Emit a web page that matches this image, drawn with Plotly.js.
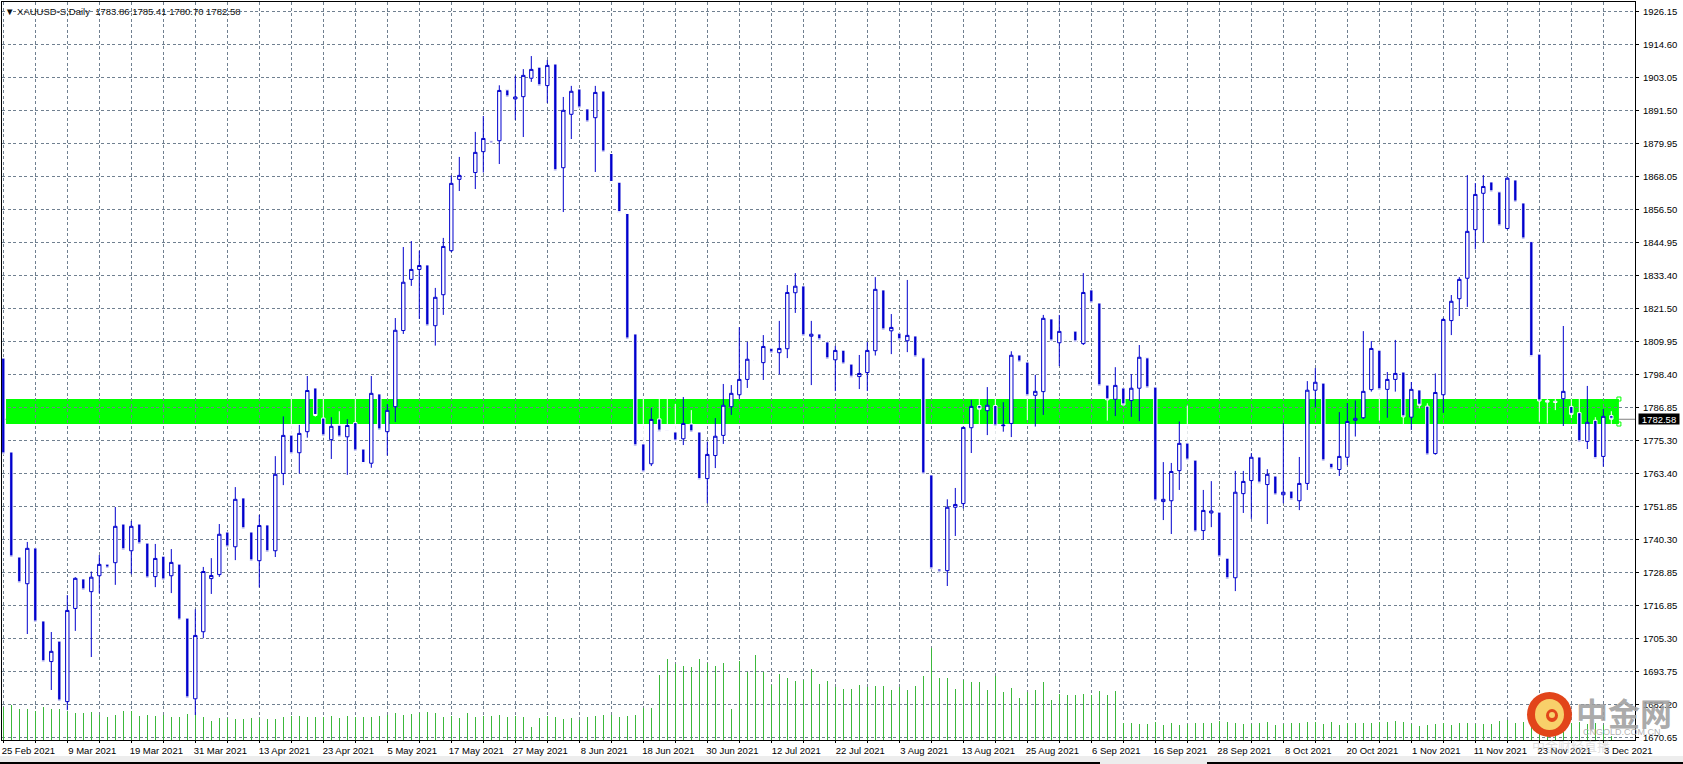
<!DOCTYPE html>
<html><head><meta charset="utf-8">
<script src="https://cdn.plot.ly/plotly-3.0.1.min.js"></script>
<style>html,body{margin:0;padding:0;background:#fff;overflow:hidden}#c{width:1683px;height:764px}</style>
</head><body><div id="c"></div>
<script>
const opens=[1804.1,1771.05,1734.1,1724.7,1737.3,1711.6,1697.3,1704.5,1683.2,1716.0,
1726.4,1721.9,1727.5,1731.6,1732.1,1745.7,1736.3,1745.7,1739.0,1727.2,
1734.4,1727.5,1731.6,1712.6,1684.2,1707.8,1726.5,1727.9,1742.9,1737.7,
1754.9,1742.9,1732.8,1745.4,1736.3,1763.5,1777.0,1770.8,1778.2,1793.6,
1783.0,1775.4,1780.5,1776.4,1781.4,1772.1,1767.1,1791.5,1778.2,1787.0,
1813.8,1831.8,1835.3,1836.9,1815.5,1826.4,1841.9,1867.0,1868.1,1869.4,
1876.75,1880.6,1880.6,1898.5,1895.3,1896.1,1902.6,1906.5,1900.0,1907.6,
1871.1,1889.9,1898.8,1891.8,1888.7,1898.1,1876.1,1866.0,1855.0,1812.6,
1773.9,1766.9,1782.7,1778.8,1778.1,1775.7,1780.9,1778.1,1761.7,1769.8,
1776.9,1787.0,1791.2,1796.6,1803.4,1802.5,1807.6,1806.0,1807.4,1827.1,
1829.5,1811.8,1812.6,1809.8,1803.5,1806.9,1802.0,1797.6,1799.0,1806.7,
1828.1,1813.7,1812.9,1810.2,1811.9,1804.2,1763.0,1729.9,1729.3,1751.6,
1752.9,1779.6,1787.4,1785.6,1787.4,1780.3,1781.1,1805.2,1802.7,1791.0,
1792.3,1817.9,1809.5,1810.6,1813.6,1809.2,1828.1,1823.5,1794.6,1789.6,
1793.6,1789.2,1793.5,1804.2,1793.9,1753.6,1753.9,1764.5,1774.2,1768.2,
1743.4,1749.6,1749.9,1733.7,1726.8,1756.4,1761.0,1769.3,1759.6,1762.6,
1756.0,1757.3,1753.9,1760.0,1792.8,1795.3,1767.1,1764.9,1769.2,1782.2,
1783.1,1793.0,1806.9,1793.1,1796.6,1799.2,1783.3,1792.9,1787.2,1770.5,
1791.2,1817.3,1825.0,1832.2,1849.3,1862.1,1866.1,1862.6,1849.7,1866.8,
1858.7,1845.1,1805.5,1789.2,1788.9,1789.8,1787.1,1784.9,1774.8,1782.2,
1769.5,1783.86];
const highs=[1804.1,1771.05,1734.1,1739.4,1737.3,1711.6,1707.7,1704.5,1720.7,1727.0,
1726.4,1729.0,1734.8,1731.6,1751.7,1745.7,1746.8,1745.7,1739.0,1738.7,
1734.4,1736.9,1731.6,1712.6,1715.7,1730.6,1733.7,1745.7,1742.9,1758.7,
1754.9,1742.9,1748.9,1745.4,1769.6,1783.6,1790.2,1780.6,1797.8,1794.0,
1790.5,1783.3,1785.4,1782.6,1790.5,1772.1,1797.8,1791.5,1787.9,1818.2,
1843.2,1845.3,1841.9,1836.9,1828.8,1846.4,1868.4,1874.9,1880.3,1883.7,
1889.3,1880.6,1900.1,1898.5,1903.5,1905.8,1910.4,1906.5,1909.0,1907.6,
1896.0,1899.9,1898.8,1891.8,1899.9,1898.1,1876.1,1866.0,1855.0,1812.6,
1790.3,1786.5,1790.3,1790.3,1788.0,1790.4,1785.8,1778.1,1774.7,1783.0,
1795.0,1794.6,1815.0,1809.8,1810.2,1812.2,1810.0,1817.2,1829.8,1834.0,
1829.5,1817.2,1812.6,1809.8,1808.4,1806.9,1802.0,1805.2,1809.8,1832.6,
1828.1,1819.6,1812.9,1831.6,1811.9,1804.2,1763.0,1729.9,1754.4,1758.4,
1780.0,1789.4,1790.3,1793.9,1790.3,1788.6,1806.5,1805.2,1802.7,1798.2,
1819.3,1817.9,1819.3,1813.0,1813.6,1834.0,1828.1,1823.5,1794.6,1800.9,
1793.6,1798.5,1808.7,1804.2,1793.9,1767.5,1767.2,1781.8,1787.4,1768.2,
1757.7,1760.8,1752.0,1733.7,1764.4,1764.4,1770.6,1769.3,1765.0,1762.6,
1781.2,1757.3,1769.3,1796.0,1800.6,1795.3,1767.1,1785.1,1788.3,1789.2,
1813.6,1810.1,1809.0,1799.2,1810.5,1799.2,1795.7,1792.9,1788.2,1798.7,
1818.3,1826.3,1832.6,1868.5,1865.7,1868.5,1866.1,1862.6,1868.0,1866.8,
1858.7,1845.1,1805.5,1790.0,1790.0,1815.4,1789.8,1789.8,1794.3,1783.3,
1786.2,1785.41];
const lows=[1770.35,1734.1,1725.0,1707.0,1711.2,1697.2,1687.3,1683.4,1680.2,1708.1,
1722.5,1698.9,1721.3,1730.2,1724.3,1736.6,1728.0,1738.7,1726.7,1723.5,
1726.0,1721.4,1711.9,1684.5,1678.5,1705.5,1721.1,1727.1,1737.6,1733.0,
1744.0,1732.7,1723.4,1735.9,1734.1,1759.4,1769.0,1763.5,1776.1,1783.5,
1776.0,1768.6,1775.5,1763.0,1770.0,1767.0,1765.5,1778.8,1769.8,1781.6,
1812.6,1829.5,1817.9,1815.4,1808.5,1819.3,1841.4,1862.9,1856.0,1863.6,
1869.4,1879.8,1872.4,1896.0,1887.9,1881.9,1901.3,1899.9,1893.9,1870.0,
1855.5,1881.2,1892.1,1887.2,1869.6,1876.6,1865.9,1855.3,1810.8,1773.2,
1763.0,1766.1,1778.4,1777.5,1774.9,1773.5,1778.1,1761.3,1753.0,1765.4,
1773.9,1784.1,1789.8,1793.6,1796.7,1796.4,1805.9,1798.4,1804.1,1820.0,
1811.9,1794.6,1810.5,1798.0,1792.5,1802.0,1797.4,1793.2,1792.5,1805.0,
1814.0,1805.5,1810.5,1806.2,1804.5,1763.3,1729.9,1728.8,1723.9,1741.5,
1751.2,1770.7,1780.5,1777.0,1774.0,1778.2,1776.3,1802.7,1782.3,1780.0,
1784.1,1810.1,1801.3,1808.0,1809.8,1808.7,1823.5,1794.3,1782.1,1783.7,
1787.6,1783.4,1781.9,1793.6,1753.8,1747.1,1742.2,1757.7,1767.0,1742.9,
1740.1,1744.6,1734.1,1726.4,1722.1,1749.6,1747.5,1760.1,1745.7,1755.9,
1753.0,1754.2,1750.6,1757.7,1786.7,1767.9,1765.1,1762.6,1766.4,1776.5,
1782.7,1792.3,1782.1,1783.1,1792.3,1780.9,1778.8,1786.4,1770.0,1770.1,
1784.8,1812.2,1818.9,1822.1,1842.4,1844.9,1862.6,1850.6,1849.4,1859.0,
1846.0,1804.6,1781.7,1781.1,1785.8,1780.2,1783.0,1774.6,1772.1,1768.7,
1765.9,1780.7];
const closes=[1770.35,1734.1,1725.0,1737.15,1711.2,1697.2,1700.9,1683.4,1715.3,1726.6,
1722.5,1727.0,1731.5,1730.2,1744.9,1736.6,1744.9,1738.7,1726.7,1733.6,
1726.0,1732.2,1711.9,1684.5,1706.5,1729.0,1727.6,1742.1,1737.6,1754.4,
1744.0,1732.7,1745.2,1735.9,1763.2,1776.9,1770.4,1777.6,1792.7,1783.9,
1776.7,1780.1,1776.3,1780.4,1771.4,1767.0,1791.7,1778.8,1785.7,1813.9,
1830.8,1835.3,1836.7,1815.4,1825.5,1843.4,1865.6,1868.4,1868.0,1876.5,
1881.4,1879.8,1898.3,1896.0,1896.0,1903.6,1905.7,1899.9,1907.1,1870.0,
1891.3,1898.0,1892.1,1887.2,1897.6,1876.6,1865.9,1855.3,1810.8,1773.2,
1764.0,1782.5,1778.4,1778.5,1774.9,1781.1,1778.1,1761.3,1770.2,1776.6,
1787.5,1791.7,1796.6,1803.7,1803.2,1808.2,1805.9,1807.5,1827.2,1829.4,
1811.9,1812.5,1810.5,1803.8,1806.8,1802.0,1797.4,1798.7,1806.8,1828.3,
1814.0,1814.9,1810.5,1812.1,1804.5,1763.3,1729.9,1728.8,1751.6,1752.6,
1779.7,1787.1,1786.1,1787.5,1780.2,1780.5,1805.1,1802.7,1790.8,1792.4,
1818.1,1810.1,1813.5,1810.5,1809.8,1827.2,1823.5,1794.3,1789.4,1794.5,
1787.6,1793.5,1804.4,1793.6,1753.8,1754.4,1764.2,1774.1,1768.2,1742.9,
1750.5,1750.3,1734.1,1726.4,1756.9,1760.7,1769.2,1760.1,1763.2,1755.9,
1756.9,1754.2,1760.0,1792.8,1795.6,1767.9,1765.1,1769.5,1781.8,1782.9,
1792.4,1807.5,1792.9,1796.6,1798.7,1783.4,1793.1,1787.5,1770.0,1792.0,
1817.7,1824.1,1831.8,1848.7,1861.7,1864.5,1862.6,1850.6,1867.4,1859.0,
1846.0,1804.6,1789.0,1788.6,1788.5,1792.4,1784.3,1774.6,1781.5,1768.7,
1783.6,1782.58];
const volumes=[33,35,31,31,29,33,31,31,29,27,27,28,25,23,25,29,29,24,25,24,
25,23,23,26,25,23,19,22,22,21,21,22,22,21,21,23,24,24,23,23,
23,24,22,24,23,23,23,24,25,27,25,26,27,28,27,23,24,22,27,23,
24,24,25,23,24,23,13,22,24,23,21,22,20,23,24,25,25,23,24,25,
32,32,65,81,76,74,73,81,77,74,77,31,79,68,85,68,55,66,62,59,
60,71,56,59,53,51,51,55,53,54,54,50,53,50,54,64,92,62,62,51,
60,58,58,50,64,48,52,42,48,50,58,40,46,45,45,46,45,49,45,49,
17,17,16,16,18,15,17,15,16,17,17,17,19,18,17,16,16,17,18,15,
16,17,17,18,18,16,18,15,17,17,17,17,18,18,19,18,16,14,15,16,
17,15,17,17,16,16,16,19,20,17,18,20,19,17,16,16,17,18,16,17,
15,4];
const dateLabels=["25 Feb 2021","9 Mar 2021","19 Mar 2021","31 Mar 2021","13 Apr 2021","23 Apr 2021","5 May 2021","17 May 2021","27 May 2021","8 Jun 2021","18 Jun 2021","30 Jun 2021","12 Jul 2021","22 Jul 2021","3 Aug 2021","13 Aug 2021","25 Aug 2021","6 Sep 2021","16 Sep 2021","28 Sep 2021","8 Oct 2021","20 Oct 2021","1 Nov 2021","11 Nov 2021","23 Nov 2021","3 Dec 2021"];
const priceTicks=[1926.15,1914.54,1902.92,1891.31,1879.70,1868.08,1856.47,1844.85,1833.24,1821.63,1810.01,1798.40,1786.79,1775.17,1763.56,1751.94,1740.33,1728.72,1717.10,1705.49,1693.87,1682.26,1670.65];
const priceLabels=["1926.15","1914.60","1903.05","1891.50","1879.95","1868.05","1856.50","1844.95","1833.40","1821.50","1809.95","1798.40","1786.85","1775.30","1763.40","1751.85","1740.30","1728.85","1716.85","1705.30","1693.75","1682.20","1670.65"];
const bandTop=1789.7, bandBottom=1780.9, lastPrice=1782.58;

const idx=opens.map((_,i)=>i);
const xTicks=[],xText=[];
for(let i=0;i<=200;i+=4){xTicks.push(i);xText.push(i%8===0?dateLabels[i/8]:"");}
const BLUE="#0000CD",GRID="#708090";
const FONT="Liberation Sans, Arial, sans-serif";
const W=1683,H=764,mL=2,mR=48,mT=2,mB=24;
const px=x=>(x-mL)/(W-mL-mR), py=y=>(H-mB-y)/(H-mT-mB);
const bandX0=0.34, bandX1=201.95;

const traces=[
 {type:"candlestick",x:idx,open:opens,high:highs,low:lows,close:closes,hoverinfo:"skip",
  increasing:{line:{color:BLUE,width:1},fillcolor:"#ffffff"},
  decreasing:{line:{color:"#ffffff",width:1},fillcolor:BLUE},whiskerwidth:0,showlegend:false},
 {type:"bar",x:idx,y:volumes,yaxis:"y2",width:0.14,marker:{color:"#3CB83C",line:{width:0}},hoverinfo:"skip",showlegend:false},
 {type:"scatter",mode:"markers",x:[bandX1,bandX1],y:[bandTop,bandBottom],cliponaxis:false,
  marker:{symbol:"square-open",size:4,color:"#00FF00",line:{width:1,color:"#00FF00"}},hoverinfo:"skip",showlegend:false}
];
const layout={
 width:W,height:H,margin:{l:mL,r:mR,t:mT,b:mB,pad:0,autoexpand:false},
 paper_bgcolor:"#ffffff",plot_bgcolor:"#ffffff",showlegend:false,boxgap:0.4,bargap:0,
 font:{family:FONT,size:10,color:"#000"},
 xaxis:{type:"linear",range:[-0.1625,203.96],rangeslider:{visible:false},tickmode:"array",tickvals:xTicks,ticktext:xText,
  showgrid:true,gridcolor:GRID,griddash:"3px,2.5px",gridwidth:1,zeroline:false,showline:true,linecolor:"#000",linewidth:1,mirror:true,
  ticks:"outside",ticklen:2,tickcolor:"#000",tickangle:0,ticklabelshift:25,ticklabelstandoff:0,ticklabeloverflow:"allow",tickfont:{family:FONT,size:9.5,color:"#000"}},
 yaxis:{range:[1669.70,1929.42],side:"right",tickmode:"array",tickvals:priceTicks,ticktext:priceLabels,
  showgrid:true,gridcolor:GRID,griddash:"3px,2.5px",gridwidth:1,zeroline:false,showline:true,linecolor:"#000",linewidth:1,mirror:true,
  ticks:"outside",ticklen:3,tickcolor:"#000",ticklabelstandoff:2,tickfont:{family:FONT,size:9.5,color:"#000"}},
 yaxis2:{overlaying:"y",range:[0,738],visible:false,showgrid:false,zeroline:false},
 shapes:[
  {type:"rect",xref:"x",yref:"y",x0:bandX0,x1:bandX1,y0:bandBottom,y1:bandTop,fillcolor:"#00FF00",line:{width:0},layer:"below"},
  {type:"line",xref:"paper",yref:"y",x0:0,x1:1,y0:lastPrice,y1:lastPrice,line:{color:"#808080",width:1},layer:"below"},
  {type:"rect",xref:"paper",yref:"paper",x0:px(0),x1:px(W),y0:py(756),y1:py(H),fillcolor:"#EDEDED",line:{width:0}},
  {type:"rect",xref:"paper",yref:"paper",x0:px(0),x1:px(1100),y0:py(762),y1:py(H),fillcolor:"#000",line:{width:0}},
  {type:"rect",xref:"paper",yref:"paper",x0:px(1207),x1:px(W),y0:py(762),y1:py(H),fillcolor:"#000",line:{width:0}},
  {type:"circle",xref:"paper",yref:"paper",x0:px(1527),x1:px(1572),y0:py(737),y1:py(692),fillcolor:"#E2451A",line:{width:0}},
  {type:"circle",xref:"paper",yref:"paper",x0:px(1535),x1:px(1564),y0:py(730),y1:py(699),fillcolor:"#F8D06A",line:{width:0}},
  {type:"circle",xref:"paper",yref:"paper",x0:px(1546),x1:px(1558),y0:py(722),y1:py(709),fillcolor:"#E2451A",line:{width:0}},
  {type:"circle",xref:"paper",yref:"paper",x0:px(1549),x1:px(1555),y0:py(718),y1:py(712),fillcolor:"#F8D06A",line:{width:0}}
 ],
 annotations:[
  {xref:"paper",yref:"paper",x:px(4),y:py(11.5),xanchor:"left",yanchor:"middle",showarrow:false,borderpad:0,
   text:"▼ XAUUSD-S,Daily  1783.86 1785.41 1780.70 1782.58",font:{family:FONT,size:9.5,color:"#111"}},
  {xref:"paper",yref:"y",x:1,y:lastPrice,xshift:3,xanchor:"left",yanchor:"middle",showarrow:false,bgcolor:"#000",borderpad:0,width:40,height:10,align:"center",
   text:"1782.58",font:{family:FONT,size:9.5,color:"#fff"}},
  {xref:"paper",yref:"paper",x:px(1574),y:py(712),xanchor:"left",yanchor:"middle",showarrow:false,
   text:"中金网",font:{family:"Noto Sans CJK SC",size:32,color:"rgba(160,160,160,0.9)",weight:700}},
  {xref:"paper",yref:"paper",x:px(1581),y:py(732),xanchor:"left",yanchor:"middle",showarrow:false,
   text:"CNGOLD.COM.CN",font:{family:FONT,size:9,color:"rgba(170,170,170,0.9)"}},
  {xref:"paper",yref:"paper",x:px(1530),y:py(745),xanchor:"left",yanchor:"middle",showarrow:false,
   text:"中金财经直播",font:{family:"Noto Sans CJK SC",size:13,color:"rgba(190,190,190,0.45)"}}
 ]
};
Plotly.newPlot("c",traces,layout,{displayModeBar:false,staticPlot:true});
</script></body></html>
